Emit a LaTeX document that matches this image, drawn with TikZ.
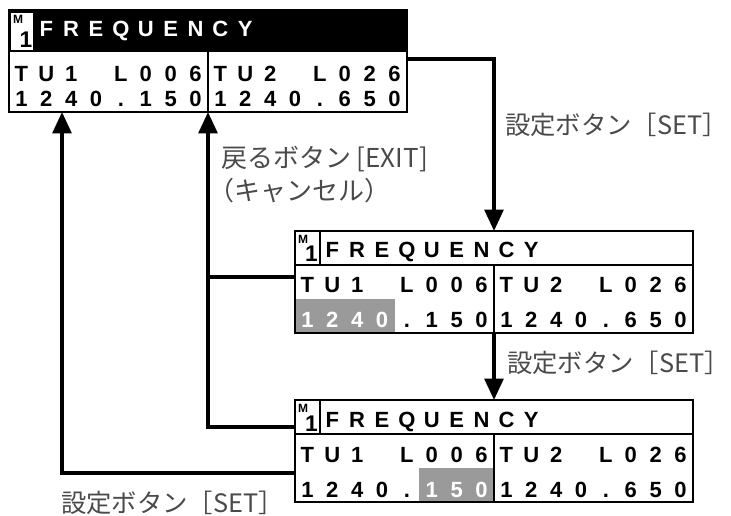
\documentclass[tikz,border=0pt]{standalone}
\usepackage{fontspec}
\setmainfont{Liberation Sans}
\newfontfamily\jpfont{Noto Sans CJK JP}
\usetikzlibrary{arrows.meta,calc}
\definecolor{lcdGrey}{HTML}{9A9A9A}
\definecolor{labelGrey}{HTML}{4A4A4A}
\def\pitch{24.875}

\begin{document}
\begin{tikzpicture}[x=0.75pt, y=-0.75pt,
    every node/.style={inner sep=0pt, outer sep=0pt},
    frame/.style={draw, line width=1.9pt, anchor=north west,
      minimum width=298.5pt, minimum height=76.5pt},
    rule/.style={line width=1.3pt},
    ch/.style={anchor=base, font=\bfseries\fontsize{16.5}{16.5}\selectfont},
    iconM/.style={font=\bfseries\fontsize{9}{9}\selectfont},
    iconOne/.style={anchor=base, font=\bfseries\fontsize{17}{17}\selectfont},
    link/.style={line width=2.8pt},
    flow/.style={link, -{Triangle[width=14pt, length=16pt]}},
    lbl/.style={anchor=west, text=labelGrey, font=\jpfont\fontsize{19.5}{19.5}\selectfont},
    setlbl/.style={lbl, font=\jpfont\fontsize{19}{19}\selectfont}]
  \useasboundingbox (0,0) rectangle (731,516);
  % Display before setting
  \begin{scope}[shift={(9,10)}]
  \fill[black] (0,0) rectangle (398,42);
  \node[frame] (d1) at (0,0) {};
  \draw[rule] (199,42) -- (199,102);
  \fill[white] (2,3) rectangle (24,40);
  \node[iconM] (d1m) at (9,9) {M};
  \node[iconOne] (d1n) at (17,38) {1};
  \foreach \c [count=\i] in {F,R,E,Q,U,E,N,C,Y}
    \node[ch, white] (d1t\i) at ({(\i+.5)*\pitch},27) {\c};
  \foreach \c [count=\i from 0] in {T,U,1,,L,0,0,6,T,U,2,,L,0,2,6}
    \node[ch] (d1a\i) at ({(\i+.5)*\pitch},72) {\c};
  \foreach \c [count=\i from 0] in {1,2,4,0,.,1,5,0,1,2,4,0,.,6,5,0}
    \node[ch] (d1b\i) at ({(\i+.5)*\pitch},97) {\c};
  \end{scope}
  % Display, first field selected
  \begin{scope}[shift={(295,231)}]
  \fill[lcdGrey] (0,68) rectangle ({4*\pitch},102);
  \node[frame] (d2) at (0,0) {};
  \draw[rule] (0,34) -- (398,34);
  \draw[rule] (199,34) -- (199,102);
  \draw[rule] (25,0) -- (25,34);
  \node[iconM] (d2m) at (8,8) {M};
  \node[iconOne] (d2n) at (16.5,31) {1};
  \foreach \c [count=\i] in {F,R,E,Q,U,E,N,C,Y}
    \node[ch] (d2t\i) at ({(\i+.5)*\pitch},27) {\c};
  \foreach \c [count=\i from 0] in {T,U,1,,L,0,0,6,T,U,2,,L,0,2,6}
    \node[ch] (d2a\i) at ({(\i+.5)*\pitch},62) {\c};
  \foreach \c [count=\i from 0] in {1,2,4,0}
    \node[ch, white] (d2b\i) at ({(\i+.5)*\pitch},97) {\c};
  \foreach \c [count=\i from 4] in {.,1,5,0,1,2,4,0,.,6,5,0}
    \node[ch] (d2b\i) at ({(\i+.5)*\pitch},97) {\c};
  \end{scope}
  % Display, second field selected
  \begin{scope}[shift={(295,400)}]
  \fill[lcdGrey] ({5*\pitch},68) rectangle (199,102);
  \node[frame] (d3) at (0,0) {};
  \draw[rule] (0,34) -- (398,34);
  \draw[rule] (199,34) -- (199,102);
  \draw[rule] (25,0) -- (25,34);
  \node[iconM] (d3m) at (8,8) {M};
  \node[iconOne] (d3n) at (16.5,31) {1};
  \foreach \c [count=\i] in {F,R,E,Q,U,E,N,C,Y}
    \node[ch] (d3t\i) at ({(\i+.5)*\pitch},27) {\c};
  \foreach \c [count=\i from 0] in {T,U,1,,L,0,0,6,T,U,2,,L,0,2,6}
    \node[ch] (d3a\i) at ({(\i+.5)*\pitch},62) {\c};
  \foreach \c [count=\i from 0] in {1,2,4,0,.}
    \node[ch] (d3b\i) at ({(\i+.5)*\pitch},97) {\c};
  \foreach \c [count=\i from 5] in {1,5,0}
    \node[ch, white] (d3b\i) at ({(\i+.5)*\pitch},97) {\c};
  \foreach \c [count=\i from 8] in {1,2,4,0,.,6,5,0}
    \node[ch] (d3b\i) at ({(\i+.5)*\pitch},97) {\c};
  \end{scope}
  % Connectors
  \coordinate (j1) at ($(d1.north east)+(0,49)$);
  \coordinate (j2) at ($(d2.north west)+(0,46)$);
  \coordinate (j3) at ($(d3.north west)+(0,27)$);
  \coordinate (j4) at ($(d3.north west)+(0,73)$);
  \coordinate (a1) at ($(d1.south west)+(53,0)$);
  \draw[flow] (j1) -| (d2.north);
  \draw[flow] (d2.south) -- (d3.north);
  \draw[flow] (j3) -| (d1.south);
  \draw[link] (j2) -- (j2 -| d1.south);
  \draw[flow] (j4) -| (a1);
  % Labels
  \node[setlbl] (set1) at (505,125) {設定ボタン［SET］};
  \node[setlbl] (set2) at (507,363) {設定ボタン［SET］};
  \node[setlbl] (set3) at (61,503) {設定ボタン［SET］};
  \node[lbl] (exit) at (221,159) {戻るボタン [EXIT]};
  \node[lbl] (cancel) at (208,191) {（キャンセル）};
\end{tikzpicture}
\end{document}
